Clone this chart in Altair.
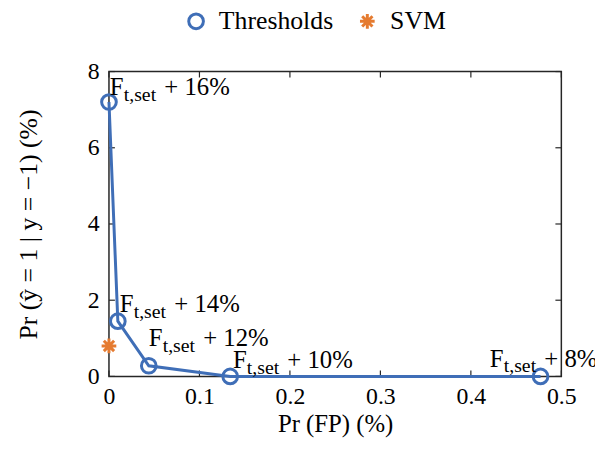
import altair as alt
import pandas as pd

# ---- data ----
thr_fp = [0.0, 0.0098, 0.044, 0.134, 0.477]
thr_pr = [7.2, 1.45, 0.28, 0.0, 0.0]
svm_fp = [0.0]
svm_pr = [0.8]
label_pct = ["16%", "14%", "12%", "10%", "8%"]
label_x = [0.001, 0.012, 0.044, 0.137, 0.421]
label_y = [7.38, 1.69, 0.80, 0.21, 0.26]
x_ticks = [0, 0.1, 0.2, 0.3, 0.4, 0.5]
y_ticks = [0, 2, 4, 6, 8]
series_names = ["Thresholds", "SVM"]

BLUE = "#3F6EB7"
ORANGE = "#E57B30"
FRAME = "#262626"
FONT = "Liberation Serif"
W, H = 457, 308
ASTERISK = "M0,-1L0,1M-1,0L1,0M-0.7,-0.7L0.7,0.7M-0.7,0.7L0.7,-0.7"

thr = pd.DataFrame({"fp": thr_fp, "pr": thr_pr, "series": series_names[0]})
svm = pd.DataFrame({"fp": svm_fp, "pr": svm_pr, "series": series_names[1]})
pts = pd.concat([thr, svm], ignore_index=True)
labels = pd.DataFrame({"lx": label_x, "ly": label_y,
                       "rest": ["+ " + p for p in label_pct]})
xt = pd.DataFrame({"v": x_ticks})
yt = pd.DataFrame({"v": y_ticks})

xscale = alt.Scale(domain=[0, 0.5], nice=False, zero=False)
yscale = alt.Scale(domain=[0, 8], nice=False, zero=False)

xaxis = alt.Axis(values=x_ticks, format="~g", ticks=False, domain=False, grid=False,
                 labelFlush=False, labelPadding=8, title="Pr (FP) (%)", titlePadding=4,
                 labelFont=FONT, labelFontSize=24, labelColor="black",
                 titleFont=FONT, titleFontSize=25, titleColor="black", titleFontWeight="normal")
yaxis = alt.Axis(values=y_ticks, format="~g", ticks=False, domain=False, grid=False,
                 labelFlush=False, labelPadding=10, title="Pr (ŷ = 1 | y = −1) (%)",
                 titlePadding=46,
                 labelFont=FONT, labelFontSize=24, labelColor="black",
                 titleFont=FONT, titleFontSize=26, titleColor="black", titleFontWeight="normal")

line = alt.Chart(thr).mark_line(color=BLUE, strokeWidth=3).encode(
    x=alt.X("fp:Q", scale=xscale, axis=xaxis),
    y=alt.Y("pr:Q", scale=yscale, axis=yaxis),
)

points = alt.Chart(pts).mark_point(filled=False, size=220, strokeWidth=3, opacity=1).encode(
    x=alt.X("fp:Q", scale=xscale),
    y=alt.Y("pr:Q", scale=yscale),
    color=alt.Color("series:N", scale=alt.Scale(domain=series_names, range=[BLUE, ORANGE]),
                    legend=alt.Legend(title=None, orient="none", direction="horizontal",
                                      legendX=75, legendY=-64, labelFont=FONT,
                                      labelFontSize=26, labelColor="black",
                                      symbolSize=220, symbolStrokeWidth=3,
                                      columnPadding=20, labelOffset=10)),
    shape=alt.Shape("series:N", scale=alt.Scale(domain=series_names, range=["circle", ASTERISK]),
                    legend=None),
)

base_lab = alt.Chart(labels)
enc = dict(x=alt.X("lx:Q", scale=xscale), y=alt.Y("ly:Q", scale=yscale))
lab_f = base_lab.mark_text(text="F", align="left", baseline="alphabetic", font=FONT,
                           fontSize=25, color="black").encode(**enc)
lab_sub = base_lab.mark_text(text="t,set", align="left", baseline="alphabetic", font=FONT,
                             fontSize=20, color="black", dx=14, dy=6).encode(**enc)
lab_rest = base_lab.mark_text(align="left", baseline="alphabetic", font=FONT,
                              fontSize=25, color="black", dx=55).encode(text="rest:N", **enc)

TL = 6
xt_bot = alt.Chart(xt).mark_rule(color=FRAME, strokeWidth=1.2).encode(
    x=alt.X("v:Q", scale=xscale), y=alt.value(H), y2=alt.value(H - TL))
xt_top = alt.Chart(xt).mark_rule(color=FRAME, strokeWidth=1.2).encode(
    x=alt.X("v:Q", scale=xscale), y=alt.value(0), y2=alt.value(TL))
yt_left = alt.Chart(yt).mark_rule(color=FRAME, strokeWidth=1.2).encode(
    y=alt.Y("v:Q", scale=yscale), x=alt.value(0), x2=alt.value(TL))
yt_right = alt.Chart(yt).mark_rule(color=FRAME, strokeWidth=1.2).encode(
    y=alt.Y("v:Q", scale=yscale), x=alt.value(W), x2=alt.value(W - TL))

chart = alt.layer(
    xt_bot, xt_top, yt_left, yt_right, line, points, lab_f, lab_sub, lab_rest
).properties(
    width=W, height=H,
    background="white",
    autosize=alt.AutoSizeParams(type="none"),
    padding={"left": 102, "top": 62, "right": 34, "bottom": 60},
).configure_view(
    stroke=FRAME, strokeWidth=1.5
).configure_text(
    font=FONT
).configure_legend(
    labelFont=FONT
).configure_axis(
    labelFont=FONT, titleFont=FONT
)

chart.save("out.html", embed_options={"renderer": "svg", "actions": False})
